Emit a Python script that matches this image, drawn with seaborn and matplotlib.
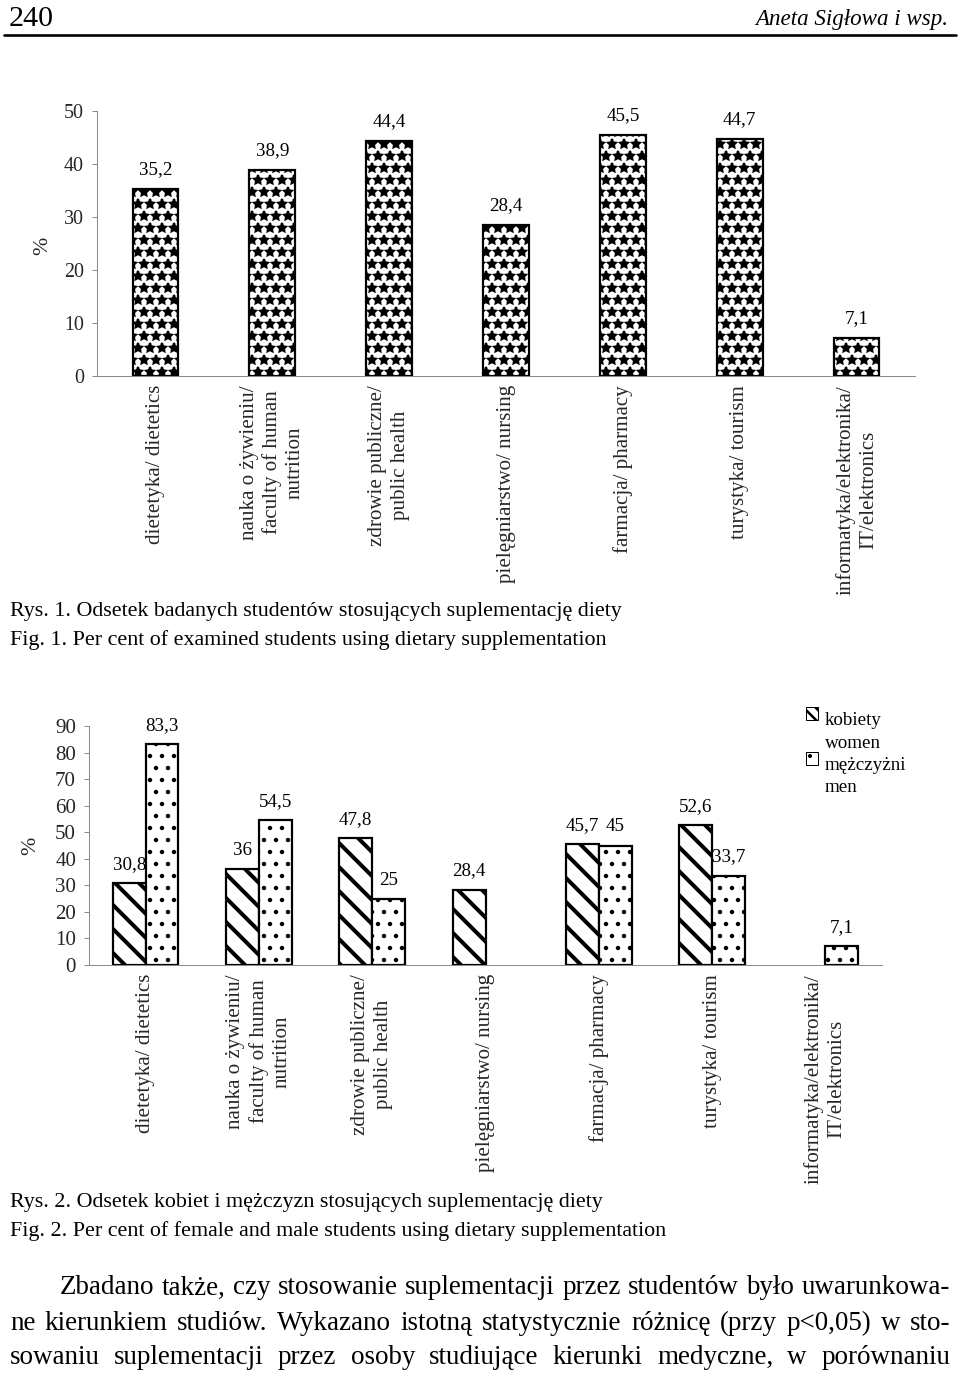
import matplotlib
matplotlib.use("Agg")
import matplotlib.pyplot as plt
import pandas as pd
import seaborn as sns
from matplotlib.lines import Line2D
from matplotlib.patches import Patch, Rectangle
from matplotlib.legend_handler import HandlerPatch

# --- dane -------------------------------------------------------------
kierunki = ["dietetyka/ dietetics",
            "nauka o żywieniu/\nfaculty of human\nnutrition",
            "zdrowie publiczne/\npublic health",
            "pielęgniarstwo/ nursing",
            "farmacja/ pharmacy",
            "turystyka/ tourism",
            "informatyka/elektronika/\nIT/elektronics"]
odsetek = [35.2, 38.9, 44.4, 28.4, 45.5, 44.7, 7.1]
kobiety = [30.8, 36.0, 47.8, 28.4, 45.7, 52.6, None]
mezczyzni = [83.3, 54.5, 25.0, None, 45.0, 33.7, 7.1]
plec = ["kobiety\nwomen", "mężczyżni\nmen"]

tekst = ["Zbadano także, czy stosowanie suplementacji przez studentów było uwarunkowa-",
         "ne kierunkiem studiów. Wykazano istotną statystycznie różnicę (przy p<0,05) w sto-",
         "sowaniu suplementacji przez osoby studiujące kierunki medyczne, w porównaniu"]

W, H, DPI = 960, 1374, 72
SERIF = ["Liberation Serif", "DejaVu Serif"]
GRAY = "#8a8a8a"

sns.set_theme(style="white")
plt.rcParams["font.family"] = SERIF
plt.rcParams["text.color"] = "black"


def fx(x):
    return x / W


def fy(y):
    return 1 - y / H


def fmt(v):
    return f"{v:g}".replace(".", ",")


def style_axes(ax, ymax, ystep, ysize):
    ax.set_ylim(0, ymax)
    ax.set_xlim(-0.5, len(kierunki) - 0.5)
    ax.set_yticks(range(0, ymax + 1, ystep))
    ax.set_xticks(range(len(kierunki)))
    ax.set_xticklabels(kierunki, rotation=90, ha="center", va="top",
                       multialignment="center", linespacing=1.25, fontsize=21)
    ax.set_xticks([i - 0.5 for i in range(len(kierunki) + 1)], minor=True)
    ax.tick_params(axis="x", which="major", length=0, pad=9)
    ax.tick_params(axis="x", which="minor", length=6, width=1, color=GRAY, direction="out")
    ax.tick_params(axis="y", length=5, width=1, color=GRAY, direction="out",
                   pad=8, labelsize=ysize, left=True)
    ax.set_xlabel("")
    sns.despine(ax=ax)
    for s in ("left", "bottom"):
        ax.spines[s].set_color(GRAY)
        ax.spines[s].set_linewidth(1)


def set_hatch(patch, hatch, lw):
    patch.set_hatch(hatch)
    if hasattr(patch, "set_hatch_linewidth"):
        patch.set_hatch_linewidth(lw)


fig = plt.figure(figsize=(W / DPI, H / DPI), dpi=DPI)

# --- Rys. 1 -----------------------------------------------------------
df1 = pd.DataFrame({"kierunek": kierunki, "odsetek": odsetek})
ax1 = fig.add_axes([fx(97), fy(376), fx(915) - fx(97), 265 / H])
sns.barplot(data=df1, x="kierunek", y="odsetek", ax=ax1, color="white",
            saturation=1, edgecolor="black", linewidth=2.2, width=0.39)
for p in ax1.patches:
    set_hatch(p, "*", 2.2)
for c in ax1.containers:
    ax1.bar_label(c, labels=[fmt(v) for v in c.datavalues], padding=11, fontsize=19)
style_axes(ax1, 50, 10, 20)
ax1.set_ylabel("%", fontsize=22, rotation=90)
ax1.yaxis.set_label_coords((52 - 97) / 818, 0.49)

# --- Rys. 2 -----------------------------------------------------------
df2 = pd.DataFrame({"kierunek": kierunki * 2,
                    "plec": [plec[0]] * len(kierunki) + [plec[1]] * len(kierunki),
                    "odsetek": kobiety + mezczyzni})
df2["odsetek"] = df2["odsetek"].astype(float)
ax2 = fig.add_axes([fx(89), fy(965), fx(882) - fx(89), 239 / H])
sns.barplot(data=df2, x="kierunek", y="odsetek", hue="plec", hue_order=plec, ax=ax2,
            palette=["white", "white"], saturation=1, edgecolor="black", linewidth=2.2,
            width=0.58, gap=0, legend=False)
hatches = [("\\", 4), (".", 2)]
for c, (h, lw) in zip(ax2.containers, hatches):
    for p in c:
        set_hatch(p, h, lw)
    ax2.bar_label(c, labels=[fmt(v) for v in c.datavalues], padding=10, fontsize=19)
style_axes(ax2, 90, 10, 21)
ax2.set_ylabel("%", fontsize=22, rotation=90)
ax2.yaxis.set_label_coords((40 - 89) / 793, 0.5)


def first_line_handle(legend, orig_handle, xdescent, ydescent, width, height, fontsize):
    # kwadracik przy pierwszej linii etykiety (jak w oryginale)
    r = Rectangle((-xdescent, -ydescent + 0.95 * fontsize), width, height,
                  facecolor="white", edgecolor="black", linewidth=1.6,
                  hatch=orig_handle.get_hatch())
    if hasattr(r, "set_hatch_linewidth"):
        r.set_hatch_linewidth(orig_handle.get_hatch_linewidth())
    return r


handles = []
for h, lw in [("\\\\", 2.5), (".", 1.6)]:
    hp = Patch(facecolor="white", edgecolor="black", hatch=h)
    if hasattr(hp, "set_hatch_linewidth"):
        hp.set_hatch_linewidth(lw)
    handles.append(hp)
leg = ax2.legend(handles, plec, loc="upper left", bbox_to_anchor=(fx(806), fy(712)),
                 bbox_transform=fig.transFigure, frameon=False, fontsize=19,
                 handlelength=0.65, handleheight=0.65, handletextpad=0.35,
                 labelspacing=0.25, borderpad=0, borderaxespad=0,
                 handler_map={Patch: HandlerPatch(patch_func=first_line_handle)})
for t in leg.get_texts():
    t.set_linespacing(1.45)

# --- tekst strony ------------------------------------------------------
fig.text(fx(9), fy(19), "240", fontsize=30, va="center", ha="left")
fig.text(fx(948), fy(20), "Aneta Sigłowa i wsp.", fontsize=23, va="center",
         ha="right", style="italic")
fig.add_artist(Line2D([fx(4), fx(956)], [fy(35), fy(35)], color="black", lw=2.6))

podpisy = [(612, "Rys. 1. Odsetek badanych studentów stosujących suplementację diety"),
           (640, "Fig. 1. Per cent of examined students using dietary supplementation"),
           (1203, "Rys. 2. Odsetek kobiet i mężczyzn stosujących suplementację diety"),
           (1231, "Fig. 2. Per cent of female and male students using dietary supplementation")]
for y, s in podpisy:
    fig.text(fx(10), fy(y), s, fontsize=22, va="center", ha="left")

renderer = fig.canvas.get_renderer()


def justify(line, x0, x1, y, size):
    words = line.split()
    texts = [fig.text(0, fy(y), w, fontsize=size, va="center", ha="left") for w in words]
    widths = [t.get_window_extent(renderer).width for t in texts]
    gap = (x1 - x0 - sum(widths)) / (len(words) - 1)
    x = x0
    for t, w in zip(texts, widths):
        t.set_x(fx(x))
        x += w + gap


for (x0, y), line in zip([(60, 1288), (10, 1323), (10, 1358)], tekst):
    justify(line, x0, 950, y, 27)

fig.savefig("out.png", dpi=DPI)
plt.close(fig)
